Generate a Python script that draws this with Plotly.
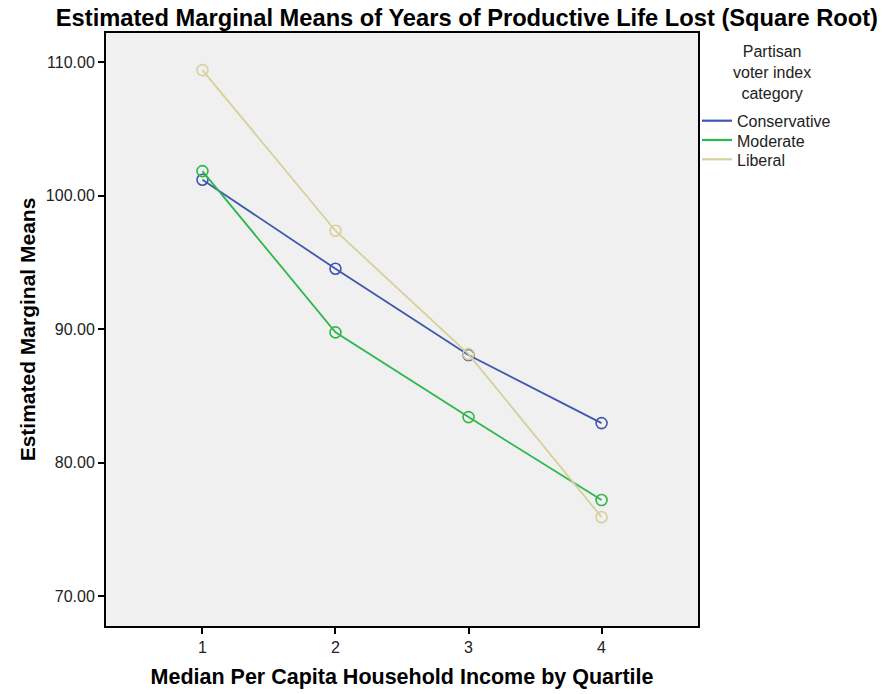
import plotly.graph_objects as go

quartiles = [1, 2, 3, 4]
series_names = ["Conservative", "Moderate", "Liberal"]
conservative = [101.20, 94.53, 88.06, 82.96]
moderate = [101.85, 89.76, 83.41, 77.19]
liberal = [109.42, 97.38, 88.13, 75.91]
y_ticks = [70, 80, 90, 100, 110]
y_tick_labels = ["70.00", "80.00", "90.00", "100.00", "110.00"]
x_ticks = [1, 2, 3, 4]
legend_title = "Partisan<br>voter index<br>category"

colors = ["#3E58AC", "#2DB84A", "#D6D09A"]
values = [conservative, moderate, liberal]

W, H = 883, 694
ML, MR, MT, MB = 106, 185, 33, 68
PW, PH = W - ML - MR, H - MT - MB


def px_x(p):
    return (p - ML) / PW


def px_y(p):
    return (H - MB - p) / PH


font_family = "Liberation Sans, Arial, sans-serif"

fig = go.Figure()
for name, vals, col in zip(series_names, values, colors):
    fig.add_trace(go.Scatter(
        x=quartiles, y=vals, mode="lines+markers", name=name,
        line=dict(color=col, width=1.8),
        marker=dict(symbol="circle-open", size=11, color=col, line=dict(width=1.6)),
        showlegend=False, hoverinfo="x+y+name",
    ))

# manual legend (to match compact spacing and centered title)
shapes = []
annotations = [dict(
    text=legend_title, xref="paper", yref="paper",
    x=px_x(772), y=px_y(41), xanchor="center", yanchor="top",
    align="center", showarrow=False,
    font=dict(size=16, color="#222222", family=font_family),
)]
for i, (name, col) in enumerate(zip(series_names, colors)):
    yy = 120.7 + i * 19.3
    shapes.append(dict(
        type="line", xref="paper", yref="paper",
        x0=px_x(702), x1=px_x(732), y0=px_y(yy), y1=px_y(yy),
        line=dict(color=col, width=2.2),
    ))
    annotations.append(dict(
        text=name, xref="paper", yref="paper",
        x=px_x(735), y=px_y(yy + 1), xanchor="left", yanchor="middle",
        showarrow=False, font=dict(size=16, color="#222222", family=font_family),
    ))

fig.update_layout(
    width=W, height=H,
    margin=dict(l=ML, r=MR, t=MT, b=MB, autoexpand=False),
    paper_bgcolor="white",
    plot_bgcolor="#F0F0F0",
    font=dict(family=font_family, color="#222222", size=16),
    title=dict(
        text="<b>Estimated Marginal Means of Years of Productive Life Lost (Square Root)</b>",
        x=878 / W, xanchor="right", xref="container",
        y=1 - 18 / H, yanchor="middle", yref="container",
        font=dict(size=23.7, color="black", family=font_family),
    ),
    xaxis=dict(
        range=[0.275, 4.725], tickmode="array", tickvals=x_ticks,
        ticktext=[str(v) for v in x_ticks],
        showgrid=False, zeroline=False,
        showline=True, linecolor="black", linewidth=2, mirror=True,
        ticks="outside", ticklen=6, tickwidth=1.5, tickcolor="black",
        tickfont=dict(size=16, color="#222222"),
        title=dict(text="<b>Median Per Capita Household Income by Quartile</b>",
                   font=dict(size=21.5, color="black"), standoff=14),
        automargin=False,
    ),
    yaxis=dict(
        range=[67.75, 112.2], tickmode="array", tickvals=y_ticks,
        ticktext=y_tick_labels,
        showgrid=False, zeroline=False,
        showline=True, linecolor="black", linewidth=2, mirror=True,
        ticks="outside", ticklen=6, tickwidth=1.5, tickcolor="black",
        tickfont=dict(size=16, color="#222222"),
        title=dict(text="<b>Estimated Marginal Means</b>",
                   font=dict(size=21, color="black"), standoff=5),
        automargin=False,
    ),
    shapes=shapes,
    annotations=annotations,
    showlegend=False,
)

fig.write_html("out.html")
